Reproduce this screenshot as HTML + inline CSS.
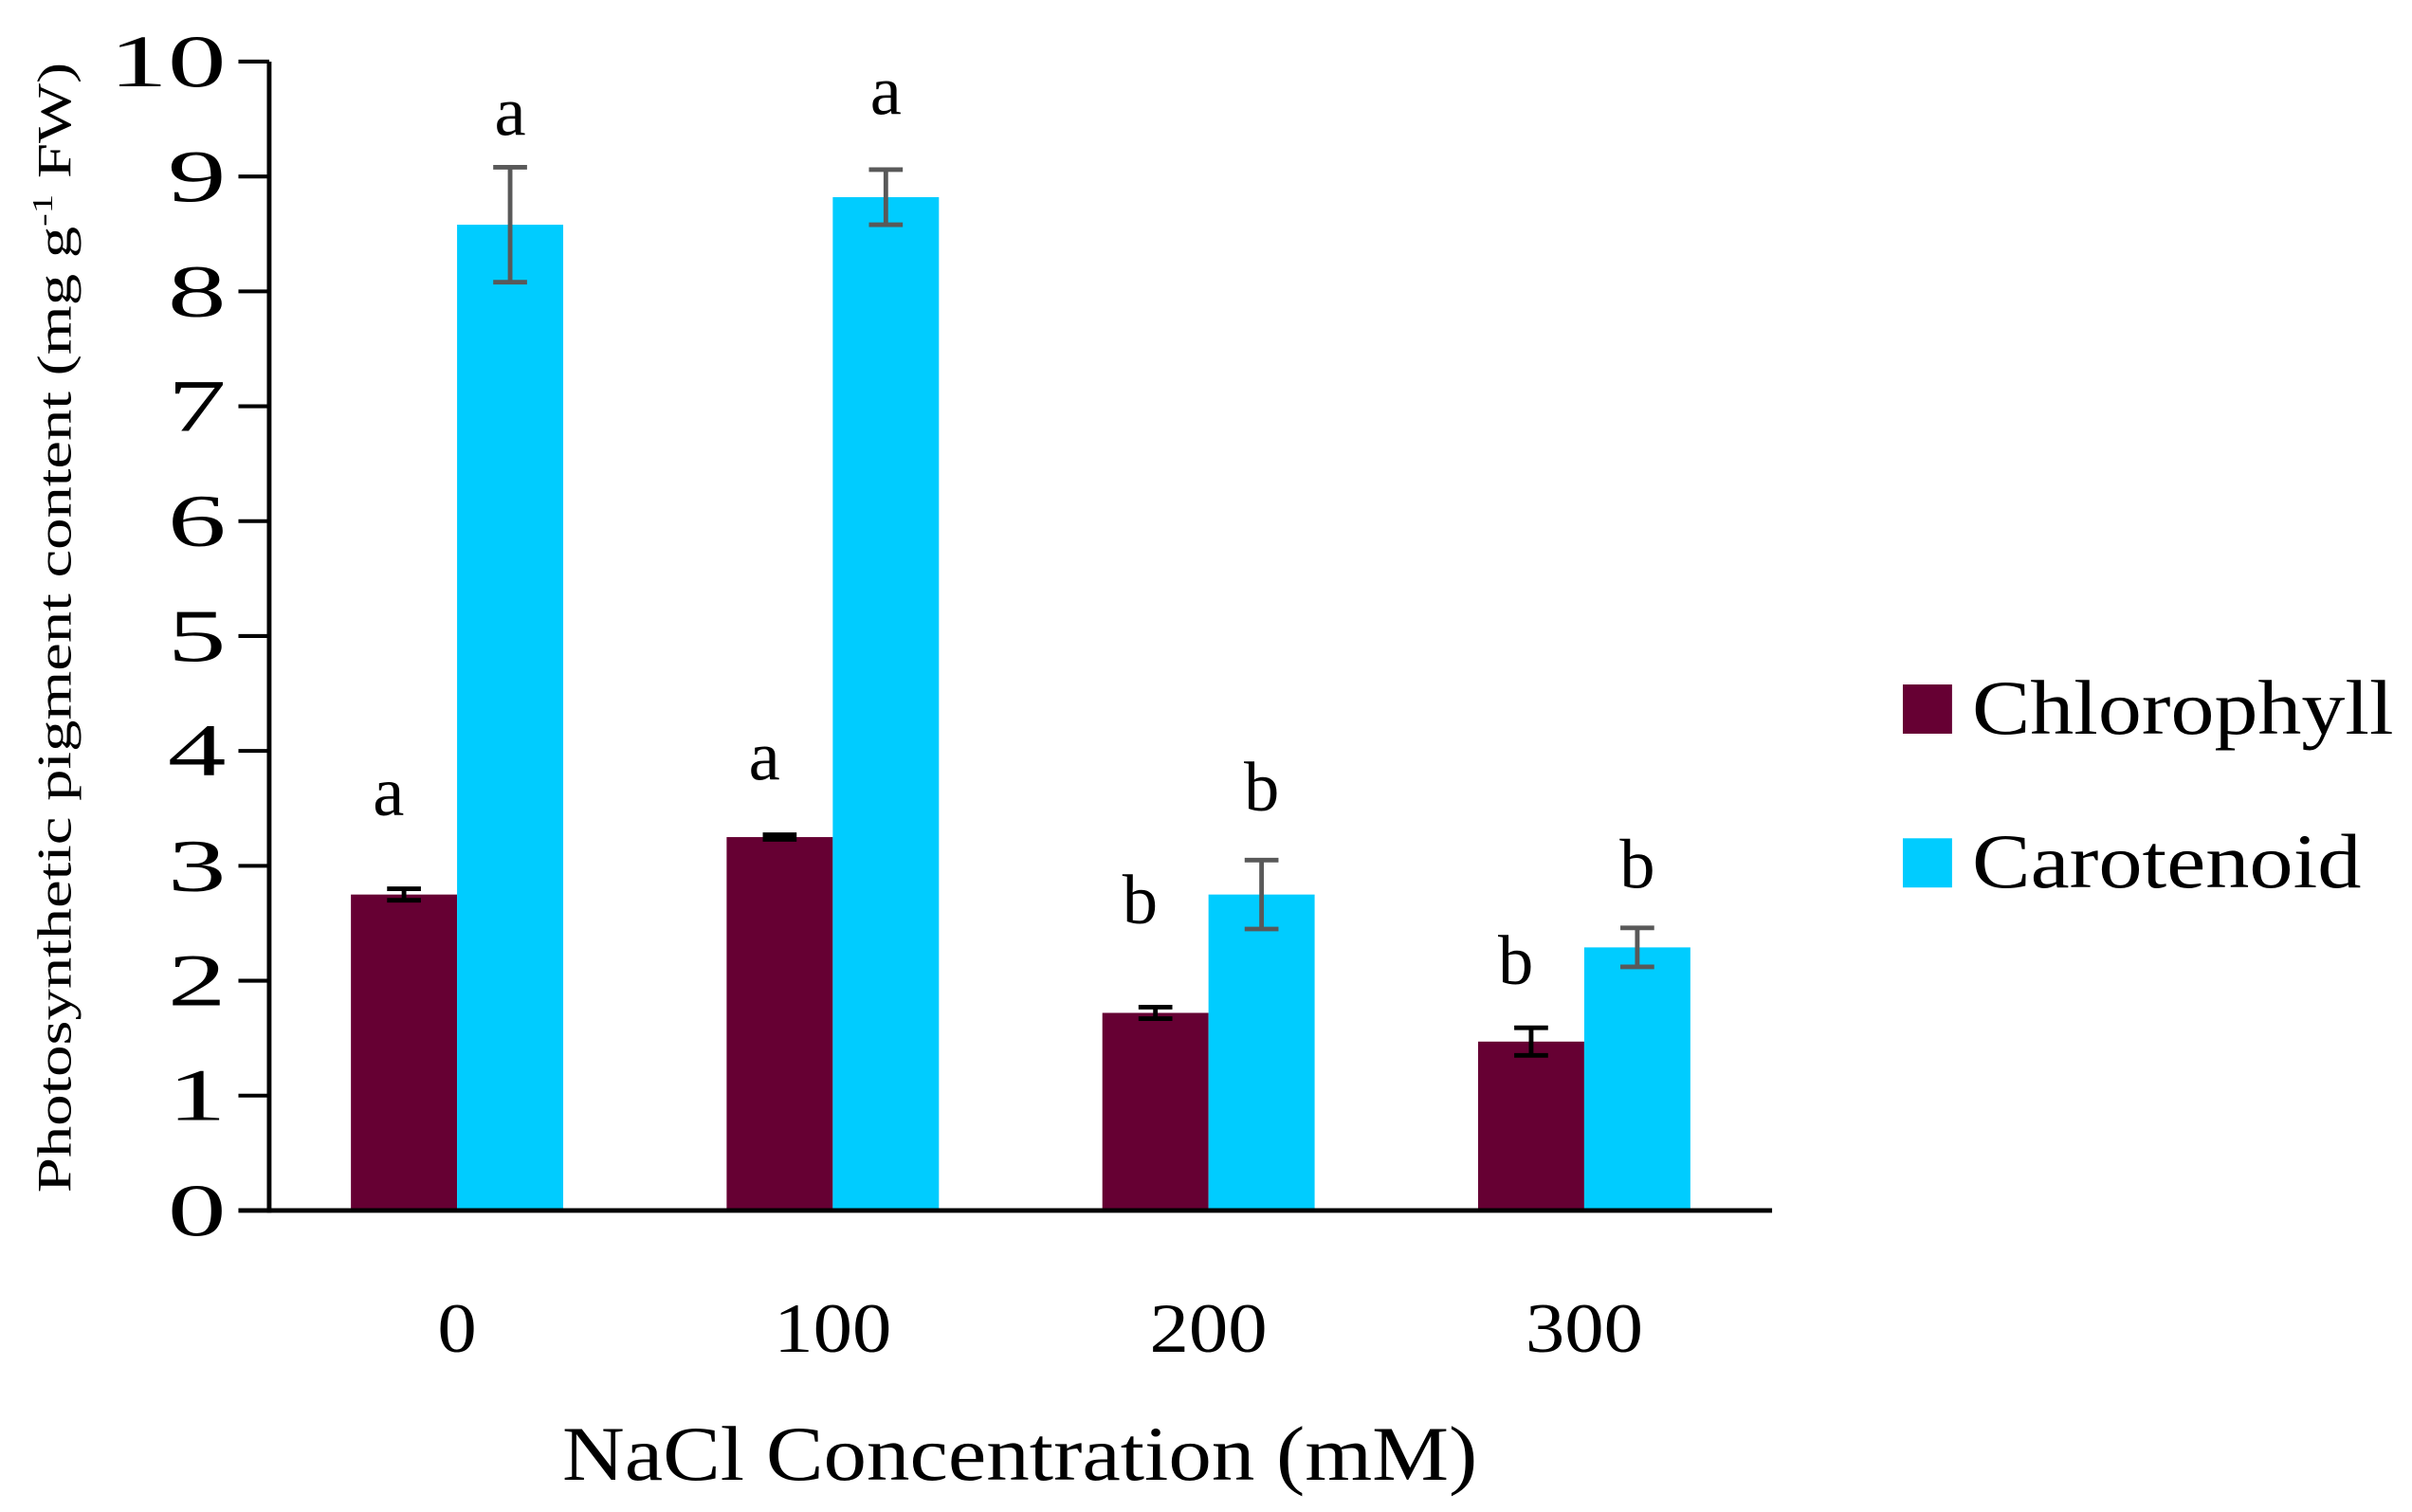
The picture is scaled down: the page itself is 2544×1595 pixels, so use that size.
<!DOCTYPE html>
<html><head><meta charset="utf-8"><style>html,body{margin:0;padding:0;background:#fff}svg{display:block}</style></head>
<body>
<svg id="chart" width="2544" height="1595" viewBox="0 0 1568 983" xmlns="http://www.w3.org/2000/svg" font-family="'Liberation Serif', serif"></svg>
<script>
const categories = ["0", "100", "200", "300"];
const chlorophyll = [2.75, 3.25, 1.72, 1.47];
const carotenoid = [8.58, 8.82, 2.75, 2.29];
const chlErr = [0.05, 0.02, 0.05, 0.12];
const carErr = [0.5, 0.24, 0.3, 0.17];
const chlLetters = ["a", "a", "b", "b"];
const carLetters = ["a", "a", "b", "b"];
const chlLetterY = [3.44, 3.75, 2.5, 1.97];
const carLetterY = [9.36, 9.54, 3.48, 2.81];
const yTicks = [0,1,2,3,4,5,6,7,8,9,10];

const NS = "http://www.w3.org/2000/svg";
const svg = document.getElementById('chart');
const X0 = 175, X1 = 1152, Y0 = 787, Y1 = 40, YMAX = 10;
const y = v => Y0 - (v / YMAX) * (Y0 - Y1);
const groupW = (X1 - X0) / categories.length;
const xc = i => X0 + groupW * (i + 0.5);
const BW = 69;
function el(tag, attrs, parent) {
  const e = document.createElementNS(NS, tag);
  for (const k in attrs) e.setAttribute(k, attrs[k]);
  (parent || svg).appendChild(e);
  return e;
}
categories.forEach((c, i) => {
  const cx = xc(i);
  const b1 = el('rect', {x: cx - BW, y: y(chlorophyll[i]), width: BW, height: Y0 - y(chlorophyll[i]), fill: '#660033'});
  
  
  const b2 = el('rect', {x: cx, y: y(carotenoid[i]), width: BW, height: Y0 - y(carotenoid[i]), fill: '#00CCFF'});
  
  
  [[cx - BW/2, chlorophyll[i], chlErr[i], '#000', 'chlorophyll'], [cx + BW/2, carotenoid[i], carErr[i], '#595959', 'carotenoid']].forEach(([ex, v, e, col, nm]) => {
    const g = el('g', {stroke: col, 'stroke-width': 3});
    
    
    el('line', {x1: ex, x2: ex, y1: y(v + e), y2: y(v - e)}, g);
    el('line', {x1: ex - 11, x2: ex + 11, y1: y(v + e), y2: y(v + e)}, g);
    el('line', {x1: ex - 11, x2: ex + 11, y1: y(v - e), y2: y(v - e)}, g);
  });
  const l1 = el('text', {x: cx - BW/2 - 10, y: y(chlLetterY[i]), 'font-size': 46, 'text-anchor': 'middle'});
  l1.textContent = chlLetters[i];
  
  
  const l2 = el('text', {x: cx + BW/2, y: y(carLetterY[i]), 'font-size': 46, 'text-anchor': 'middle'});
  l2.textContent = carLetters[i];
  
  
  const xl = el('text', {x: cx, y: 879, 'font-size': 46, 'text-anchor': 'middle', textLength: 25.5 * c.length, lengthAdjust: 'spacingAndGlyphs'});
  xl.textContent = c;
  
  
});
const ya = el('line', {x1: X0, x2: X0, y1: Y1, y2: Y0 + 1.5, stroke: '#000', 'stroke-width': 3});


const xa = el('line', {x1: 155, x2: X1, y1: Y0, y2: Y0, stroke: '#000', 'stroke-width': 3});


yTicks.forEach(t => {
  const tk = el('line', {x1: 155, x2: X0, y1: y(t), y2: y(t), stroke: '#000', 'stroke-width': 2.5});
  
  
  const s = String(t);
  const tl = el('text', {x: 147, y: y(t) + 16, 'font-size': 48, 'text-anchor': 'end', textLength: 38 * s.length, lengthAdjust: 'spacingAndGlyphs'});
  tl.textContent = s;
  
  
});
</script>
<script>
(function(){
  const NS = "http://www.w3.org/2000/svg";
  const svg = document.getElementById('chart');
  const yt = document.createElementNS(NS, 'text');
  yt.setAttribute('transform', 'translate(46,408) rotate(-90)');
  yt.setAttribute('text-anchor', 'middle');
  yt.setAttribute('font-size', '31');
  yt.setAttribute('textLength', '735');
  yt.setAttribute('lengthAdjust', 'spacingAndGlyphs');
  yt.innerHTML = 'Photosynthetic pigment content (mg  g<tspan font-size="19" dy="-12">-1</tspan><tspan dy="12"> FW)</tspan>';
  
  
  svg.appendChild(yt);
  const xt = document.createElementNS(NS, 'text');
  xt.setAttribute('x', '663'); xt.setAttribute('y', '962');
  xt.setAttribute('text-anchor', 'middle'); xt.setAttribute('font-size', '50');
  xt.setAttribute('textLength', '595');
  xt.setAttribute('lengthAdjust', 'spacingAndGlyphs');
  xt.textContent = 'NaCl Concentration (mM)';
  
  
  svg.appendChild(xt);
  [['Chlorophyll', '#660033', 445, 274], ['Carotenoid', '#00CCFF', 545, 253]].forEach(([n, c, yy, w]) => {
    const g = document.createElementNS(NS, 'g');
    
    
    const r = document.createElementNS(NS, 'rect');
    r.setAttribute('x', 1237); r.setAttribute('y', yy); r.setAttribute('width', 32); r.setAttribute('height', 32); r.setAttribute('fill', c);
    g.appendChild(r);
    const t = document.createElementNS(NS, 'text');
    t.setAttribute('x', 1282); t.setAttribute('y', yy + 32); t.setAttribute('font-size', '50');
    t.setAttribute('textLength', w);
    t.setAttribute('lengthAdjust', 'spacingAndGlyphs');
    t.textContent = n;
    g.appendChild(t);
    svg.appendChild(g);
  });
})();
</script>
</body></html>
